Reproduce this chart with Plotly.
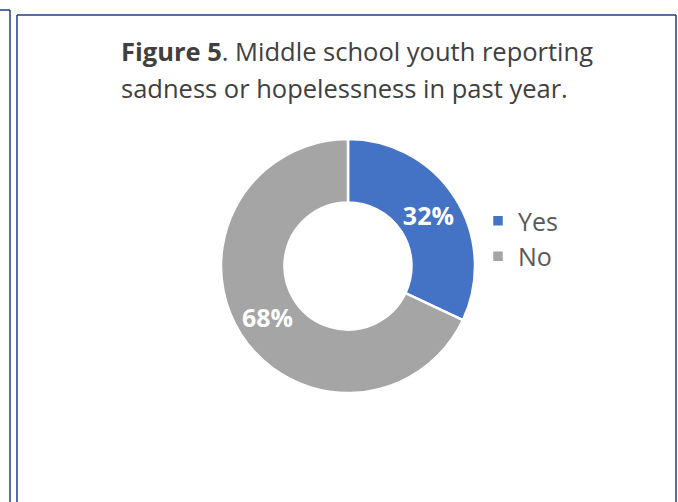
import plotly.graph_objects as go

labels = ["Yes", "No"]
values = [32, 68]
colors = ["#4472C4", "#A5A5A5"]
title_line1 = "<b>Figure 5</b>. Middle school youth reporting"
title_line2 = "sadness or hopelessness in past year."

W, H = 678, 502
cx, cy, r = 348, 266, 127

def px(x):
    return x / W

def py(y):
    return (H - y) / H

fig = go.Figure(go.Pie(
    labels=labels,
    values=values,
    hole=0.5,
    sort=False,
    direction="clockwise",
    rotation=0,
    marker=dict(colors=colors, line=dict(color="white", width=2.5)),
    texttemplate="%{percent:.0%}",
    textposition="inside",
    insidetextorientation="horizontal",
    textfont=dict(family="Open Sans", size=25, color="white", weight="bold"),
    domain=dict(x=[px(cx - r), px(cx + r)], y=[py(cy + r), py(cy - r)]),
    hoverinfo="label+percent",
))

frame_color = "#1F3C88"
lw = 1.5
shapes = [
    dict(type="line", xref="paper", yref="paper", x0=px(0), x1=px(10), y0=py(10), y1=py(10),
         line=dict(color=frame_color, width=lw)),
    dict(type="line", xref="paper", yref="paper", x0=px(10), x1=px(10), y0=py(10), y1=py(H + 5),
         line=dict(color=frame_color, width=lw)),
    dict(type="line", xref="paper", yref="paper", x0=px(17), x1=px(676), y0=py(15), y1=py(15),
         line=dict(color=frame_color, width=lw)),
    dict(type="line", xref="paper", yref="paper", x0=px(17), x1=px(17), y0=py(15), y1=py(H + 5),
         line=dict(color=frame_color, width=lw)),
    dict(type="line", xref="paper", yref="paper", x0=px(676), x1=px(676), y0=py(15), y1=py(H + 5),
         line=dict(color=frame_color, width=lw)),
]

title_font = dict(family="Open Sans", size=25.5, color="#404040")
annotations = [
    dict(text=title_line1, xref="paper", yref="paper", x=px(119), y=py(51),
         xanchor="left", yanchor="middle", align="left", showarrow=False, font=title_font),
    dict(text=title_line2, xref="paper", yref="paper", x=px(119), y=py(88),
         xanchor="left", yanchor="middle", align="left", showarrow=False, font=title_font),
]

fig.update_layout(
    width=W,
    height=H,
    margin=dict(l=0, r=0, t=0, b=0),
    paper_bgcolor="white",
    plot_bgcolor="white",
    shapes=shapes,
    annotations=annotations,
    legend=dict(
        x=px(478), y=py(198),
        xanchor="left", yanchor="top",
        font=dict(family="Open Sans", size=25, color="#595959"),
        bgcolor="rgba(0,0,0,0)",
        itemwidth=30,
    ),
    showlegend=True,
)

fig.write_html(
    "out.html",
    config={"displayModeBar": False},
    post_script="document.body.style.margin='0';document.body.style.padding='0';",
)
